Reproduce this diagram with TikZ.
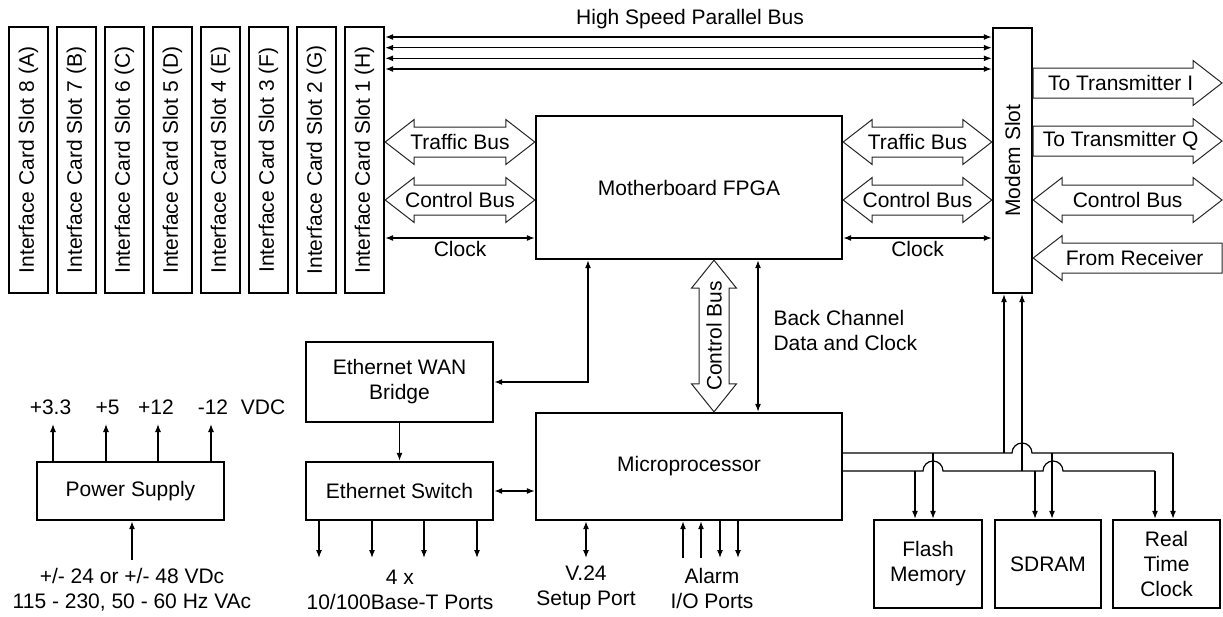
\documentclass[tikz,border=0pt]{standalone}
\usepackage{fontspec}
\setmainfont{Liberation Sans}
\usetikzlibrary{arrows.meta,calc}

\tikzset{
  block/.style={draw, line width=2.4pt, inner sep=2pt, align=center},
  link/.style={line width=1.2pt, {Latex[length=8pt,width=6pt]}-{Latex[length=8pt,width=6pt]}},
  linkto/.style={line width=1.2pt, -{Latex[length=8pt,width=6pt]}},
  wire/.style={line width=1.2pt},
  bus/.style={draw=black!85, line width=1pt, fill=white, line join=miter},
}

% fat double arrow, left to right
\newcommand{\hbus}[3]{%
  \draw[bus] let \p1=(#1), \p2=(#2) in
    (\x1,\y1) -- (\x1+29pt,\y1+22.5pt) -- (\x1+29pt,\y1+15pt) -- (\x2-29pt,\y1+15pt)
    -- (\x2-29pt,\y1+22.5pt) -- (\x2,\y1) -- (\x2-29pt,\y1-22.5pt) -- (\x2-29pt,\y1-15pt)
    -- (\x1+29pt,\y1-15pt) -- (\x1+29pt,\y1-22.5pt) -- cycle;
  \node at ($(#1)!0.5!(#2)$) {#3};}
% fat single arrow, head at #2
\newcommand{\rbus}[3]{%
  \draw[bus] let \p1=(#1), \p2=(#2) in
    (\x1,\y1+15pt) -- (\x2-29pt,\y1+15pt) -- (\x2-29pt,\y1+22.5pt) -- (\x2,\y1)
    -- (\x2-29pt,\y1-22.5pt) -- (\x2-29pt,\y1-15pt) -- (\x1,\y1-15pt) -- cycle;
  \node at ($($(#1)!0.5!(#2)$)+(-7,0)$) {#3};}
% fat single arrow, head at #1
\newcommand{\lbus}[3]{%
  \draw[bus] let \p1=(#1), \p2=(#2) in
    (\x1,\y1) -- (\x1+29pt,\y1+22.5pt) -- (\x1+29pt,\y1+15pt) -- (\x2,\y1+15pt)
    -- (\x2,\y1-15pt) -- (\x1+29pt,\y1-15pt) -- (\x1+29pt,\y1-22.5pt) -- cycle;
  \node at ($($(#1)!0.5!(#2)$)+(7,0)$) {#3};}
% fat double arrow, top to bottom
\newcommand{\vbus}[3]{%
  \draw[bus] let \p1=(#1), \p2=(#2) in
    (\x1,\y1) -- (\x1+22.5pt,\y1-28pt) -- (\x1+15pt,\y1-28pt) -- (\x1+15pt,\y2+28pt)
    -- (\x1+22.5pt,\y2+28pt) -- (\x1,\y2) -- (\x1-22.5pt,\y2+28pt) -- (\x1-15pt,\y2+28pt)
    -- (\x1-15pt,\y1-28pt) -- (\x1-22.5pt,\y1-28pt) -- cycle;
  \node[rotate=90] at ($(#1)!0.5!(#2)$) {#3};}

\begin{document}
\begin{tikzpicture}[x=1pt, y=-1pt, font=\fontsize{21}{25}\selectfont,
    every node/.style={align=center}]
  \useasboundingbox (0,0) rectangle (1223,616);

  % interface card slots
  \foreach \i/\l in {1/H,2/G,3/F,4/E,5/D,6/C,7/B,8/A}
    \node[block, minimum width=39pt, minimum height=266pt] (slot\i) at (28.5+48*8-48*\i,160)
      {\rotatebox{90}{Interface Card Slot \i\ (\l)}};
  \node[block, minimum width=39pt, minimum height=265pt] (modem) at (1012.5,160.5)
    {\rotatebox{90}{Modem Slot}};

  \node[block, minimum width=306pt, minimum height=143pt] (fpga) at (689,187.5) {Motherboard FPGA};
  \node[block, minimum width=306pt, minimum height=107pt] (micro) at (689,466.5) {Microprocessor};
  \node[block, minimum width=187pt, minimum height=80pt] (bridge) at (399.5,382) {Ethernet WAN\\Bridge};
  \node[block, minimum width=187pt, minimum height=58pt] (switch) at (399.5,491) {Ethernet Switch};
  \node[block, minimum width=187pt, minimum height=58pt] (power) at (130.5,491) {Power Supply};
  \node[block, minimum width=108pt, minimum height=88pt] (flash) at (928,564) {Flash\\Memory};
  \node[block, minimum width=106pt, minimum height=88pt] (sdram) at (1048,564) {SDRAM};
  \node[block, minimum width=107pt, minimum height=88pt] (rtc) at (1166.5,564) {Real\\Time\\Clock};

  % high speed parallel bus
  \node (hspb) at (690,19) {High Speed Parallel Bus};
  \foreach \y in {37,47.7,58.3,69}
    \draw[link] (slot1.east |- 0,\y) -- (modem.west |- 0,\y);

  % buses between slots, fpga and modem
  \hbus{slot1.east |- 0,142}{fpga.west |- 0,142}{Traffic Bus}
  \hbus{slot1.east |- 0,200}{fpga.west |- 0,200}{Control Bus}
  \draw[link] (slot1.east |- 0,238) -- (fpga.west |- 0,238) node[midway, below=-1pt] {Clock};
  \hbus{fpga.east |- 0,142}{modem.west |- 0,142}{Traffic Bus}
  \hbus{fpga.east |- 0,200}{modem.west |- 0,200}{Control Bus}
  \draw[link] (fpga.east |- 0,238) -- (modem.west |- 0,238) node[midway, below=-1pt] {Clock};

  % modem outputs
  \coordinate (txI) at (1222,83);
  \coordinate (txQ) at (1222,141);
  \coordinate (ctl) at (1222,200);
  \coordinate (rx) at (1222,258);
  \rbus{modem.east |- txI}{txI}{To Transmitter I}
  \rbus{modem.east |- txQ}{txQ}{To Transmitter Q}
  \hbus{modem.east |- ctl}{ctl}{Control Bus}
  \lbus{modem.east |- rx}{rx}{From Receiver}

  % fpga to microprocessor
  \vbus{fpga.south -| 714,0}{micro.north -| 714,0}{Control Bus}
  \draw[link] (fpga.south -| 758,0) -- (micro.north -| 758,0);
  \node[anchor=west, align=left] (back) at (770,330) {Back Channel\\Data and Clock};

  % ethernet
  \draw[link] (bridge.east) -| (fpga.south -| 588,0);
  \draw[linkto] (bridge.south) -- (switch.north);
  \draw[link] (switch.east) -- (micro.west |- switch.east);
  \foreach \x in {319,372,424,477}
    \draw[linkto] (switch.south -| \x,0) -- (\x,558);
  \node (ports) at (400,590) {4 x\\10/100Base-T Ports};

  % power supply
  \foreach \x/\n in {53/a,106/b,158/c,211/d} {
    \coordinate (out\n) at (\x,424);
    \draw[linkto] (power.north -| out\n) -- (out\n);
  }
  \node (va) at (50.5,407) {+3.3};
  \node (vb) at (107.5,407) {+5};
  \node (vc) at (156,407) {+12};
  \node (vd) at (213,407) {-12};
  \node (vdc) at (263,407) {VDC};
  \coordinate (pin) at (132,560);
  \draw[linkto] (pin) -- (power.south -| pin);
  \node (mains) at (132,590) {+/- 24 or +/- 48 VDc\\115 - 230, 50 - 60 Hz VAc};

  % microprocessor ports
  \draw[link] (micro.south -| 586,0) -- (586,558);
  \node (setup) at (586,588) {V.24\\Setup Port};
  \foreach \x in {683,701}
    \draw[linkto] (\x,558) -- (micro.south -| \x,0);
  \foreach \x in {720,738}
    \draw[linkto] (micro.south -| \x,0) -- (\x,558);
  \node (alarm) at (712,588) {Alarm\\I/O Ports};

  % local bus to memories and modem
  \draw[wire] (micro.east |- 0,453) -- (1012,453) arc[start angle=180, end angle=0, radius=10pt]
    -- (1173,453);
  \draw[wire] (micro.east |- 0,471) -- (923,471) arc[start angle=180, end angle=0, radius=10pt]
    -- (1043,471) arc[start angle=180, end angle=0, radius=10pt] -- (1155,471);
  \draw[linkto] (1173,453) -- (rtc.north -| 1173,0);
  \draw[linkto] (1155,471) -- (rtc.north -| 1155,0);
  \draw[linkto] (933,453) -- (flash.north -| 933,0);
  \draw[linkto] (915,471) -- (flash.north -| 915,0);
  \draw[linkto] (1052,453) -- (sdram.north -| 1052,0);
  \draw[linkto] (1035,471) -- (sdram.north -| 1035,0);
  \draw[linkto] (1004,453) -- (modem.south -| 1004,0);
  \draw[linkto] (1022,471) -- (modem.south -| 1022,0);
\end{tikzpicture}
\end{document}
